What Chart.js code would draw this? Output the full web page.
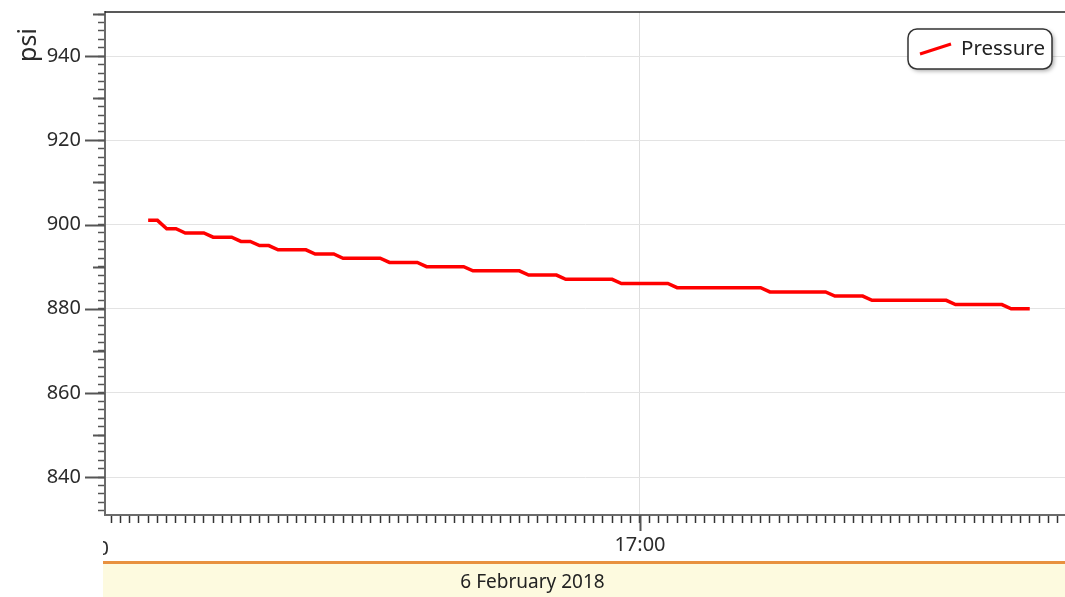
<!DOCTYPE html>
<html>
<head>
<meta charset="utf-8">
<script src="https://cdn.jsdelivr.net/npm/chart.js@4"></script>
<style>
  body { margin: 0; background: #fff; }
  #wrap { position: relative; width: 1065px; height: 597px; overflow: hidden; }
  #band {
    position: absolute; left: 103px; top: 561px; width: 962px; height: 33px;
    border-top: 3px solid #e8913f; background: #fdfadf;
  }
  #dateLabel {
    position: absolute; left: 0; top: 568px; width: 1065px; text-align: center;
    font: 19px "Noto Sans", sans-serif; color: #222;
  }
</style>
</head>
<body>
<div id="wrap">
  <canvas id="chart" width="1065" height="562"></canvas>
  <div id="band"></div>
  <div id="dateLabel">6 February 2018</div>
</div>
<script>
// ======================================================
// DATA (one sample per minute, 16:07 - 17:42)
// ======================================================
const times = [
  "16:07","16:08","16:09","16:10","16:11","16:12","16:13","16:14","16:15","16:16",
  "16:17","16:18","16:19","16:20","16:21","16:22","16:23","16:24","16:25","16:26",
  "16:27","16:28","16:29","16:30","16:31","16:32","16:33","16:34","16:35","16:36",
  "16:37","16:38","16:39","16:40","16:41","16:42","16:43","16:44","16:45","16:46",
  "16:47","16:48","16:49","16:50","16:51","16:52","16:53","16:54","16:55","16:56",
  "16:57","16:58","16:59","17:00","17:01","17:02","17:03","17:04","17:05","17:06",
  "17:07","17:08","17:09","17:10","17:11","17:12","17:13","17:14","17:15","17:16",
  "17:17","17:18","17:19","17:20","17:21","17:22","17:23","17:24","17:25","17:26",
  "17:27","17:28","17:29","17:30","17:31","17:32","17:33","17:34","17:35","17:36",
  "17:37","17:38","17:39","17:40","17:41","17:42"
];

const pressure = [
  901,901,899,899,898,898,898,897,897,897,
  896,896,895,895,894,894,894,894,893,893,
  893,892,892,892,892,892,891,891,891,891,
  890,890,890,890,890,889,889,889,889,889,
  889,888,888,888,888,887,887,887,887,887,
  887,886,886,886,886,886,886,885,885,885,
  885,885,885,885,885,885,885,884,884,884,
  884,884,884,884,883,883,883,883,882,882,
  882,882,882,882,882,882,882,881,881,881,
  881,881,881,880,880,880
];

const yTickLabels = [840, 860, 880, 900, 920, 940];
const seriesName = "Pressure";
const unitLabel = "psi";

// time axis in minutes since 16:00
const BASE_HOUR = 16;
const toMinutes = t => {
  const [h, m] = t.split(":").map(Number);
  return (h - BASE_HOUR) * 60 + m;
};
const fmtHour = v => `${BASE_HOUR + Math.round(v / 60)}:00`;

const FONT = "'Noto Sans', sans-serif";
const TEXT = "#2b2b2b";

// ======================================================
// DECORATION PLUGIN (long ticks, top border, legend, title)
// ======================================================
const decor = {
  id: "decor",
  afterDraw(chart) {
    const { ctx, chartArea: a, scales: { x, y } } = chart;
    ctx.save();

    // top border
    ctx.strokeStyle = "#222";
    ctx.lineWidth = 1.5;
    ctx.beginPath();
    ctx.moveTo(a.left, a.top);
    ctx.lineTo(chart.width, a.top);
    ctx.stroke();

    // longer y ticks at 10 / 20
    ctx.strokeStyle = "#555";
    ctx.lineWidth = 2;
    y.ticks.forEach(t => {
      const v = Math.round(t.value);
      const len = v % 20 === 0 ? 20 : (v % 10 === 0 ? 12 : 0);
      if (!len) return;
      const py = Math.round(y.getPixelForValue(v)) + 0.5;
      ctx.beginPath();
      ctx.moveTo(a.left - len, py);
      ctx.lineTo(a.left, py);
      ctx.stroke();
    });

    // longer x tick at each hour + clipped hour label on the left
    ctx.font = `20px ${FONT}`;
    ctx.fillStyle = TEXT;
    ctx.textAlign = "center";
    ctx.textBaseline = "middle";
    [0, 60].forEach(v => {
      const px = Math.round(x.getPixelForValue(v)) + 0.5;
      if (px >= a.left && px <= a.right) {
        ctx.beginPath();
        ctx.moveTo(px, a.bottom);
        ctx.lineTo(px, a.bottom + 16);
        ctx.stroke();
      }
      if (px < a.left) {
        ctx.save();
        ctx.beginPath();
        ctx.rect(a.left - 2, a.bottom + 17, 200, 40);
        ctx.clip();
        ctx.fillText(fmtHour(v), px, 549);
        ctx.restore();
      }
    });

    // y title
    ctx.save();
    ctx.translate(29, 45);
    ctx.rotate(-Math.PI / 2);
    ctx.font = `25px ${FONT}`;
    ctx.fillStyle = TEXT;
    ctx.textAlign = "center";
    ctx.textBaseline = "middle";
    ctx.fillText(unitLabel, 0, 0);
    ctx.restore();

    // legend box
    const bx = 908, by = 29, bw = 144, bh = 40;
    ctx.save();
    ctx.shadowColor = "rgba(0,0,0,0.35)";
    ctx.shadowBlur = 4;
    ctx.shadowOffsetX = 2;
    ctx.shadowOffsetY = 2;
    ctx.fillStyle = "#fff";
    ctx.beginPath();
    ctx.roundRect(bx, by, bw, bh, 9);
    ctx.fill();
    ctx.restore();
    ctx.strokeStyle = "#333";
    ctx.lineWidth = 1.5;
    ctx.beginPath();
    ctx.roundRect(bx, by, bw, bh, 9);
    ctx.stroke();

    ctx.strokeStyle = chart.data.datasets[0].borderColor;
    ctx.lineWidth = 3;
    ctx.beginPath();
    ctx.moveTo(920, 54);
    ctx.lineTo(951, 44);
    ctx.stroke();

    ctx.font = `20.5px ${FONT}`;
    ctx.fillStyle = "#222";
    ctx.textAlign = "left";
    ctx.textBaseline = "middle";
    ctx.fillText(chart.data.datasets[0].label, 961, 49);

    ctx.restore();
  }
};

// ======================================================
// CHART
// ======================================================
new Chart(document.getElementById("chart"), {
  type: "line",
  data: {
    datasets: [{
      label: seriesName,
      data: times.map((t, i) => ({ x: toMinutes(t), y: pressure[i] })),
      borderColor: "#ff0000",
      borderWidth: 3.5,
      pointRadius: 0,
      tension: 0,
      fill: false
    }]
  },
  options: {
    responsive: false,
    animation: false,
    layout: { padding: { top: 12, left: 0, right: 0, bottom: 0 } },
    plugins: {
      legend: { display: false },
      tooltip: { enabled: false }
    },
    scales: {
      x: {
        type: "linear",
        min: 2.35,
        max: 105.8,
        afterFit: s => {
          s.height = 47;
          s.paddingLeft = 0;
          s.paddingRight = 0;
        },
        border: { color: "#6b6b6b", width: 2 },
        grid: {
          color: c => (Math.round(c.tick.value) % 60 === 0 ? "#dedede" : "rgba(0,0,0,0)"),
          tickColor: "#333",
          tickLength: 8,
          tickWidth: 1.5
        },
        ticks: {
          stepSize: 1,
          autoSkip: false,
          includeBounds: false,
          maxRotation: 0,
          padding: 10,
          color: TEXT,
          font: { family: FONT, size: 20 },
          callback: v => (Math.round(v) % 60 === 0 ? fmtHour(v) : "")
        }
      },
      y: {
        min: 831,
        max: 950.5,
        afterFit: s => {
          s.width = 105;
          s.paddingTop = 0;
          s.paddingBottom = 0;
        },
        border: { color: "#6b6b6b", width: 2 },
        grid: {
          color: c => (yTickLabels.includes(Math.round(c.tick.value)) ? "#e3e3e3" : "rgba(0,0,0,0)"),
          tickColor: "#555",
          tickLength: 7,
          tickWidth: 1.5
        },
        ticks: {
          stepSize: 2,
          autoSkip: false,
          includeBounds: false,
          padding: 17,
          color: TEXT,
          font: { family: FONT, size: 20 },
          callback: v => (yTickLabels.includes(Math.round(v)) ? v : "")
        }
      }
    }
  },
  plugins: [decor]
});
</script>
</body>
</html>
